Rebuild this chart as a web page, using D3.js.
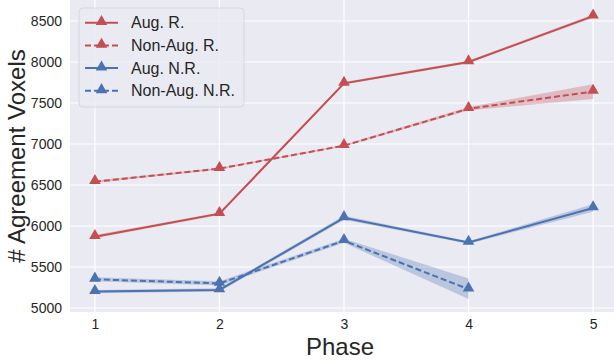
<!DOCTYPE html>
<html><head><meta charset="utf-8">
<script src="https://cdn.jsdelivr.net/npm/d3@7"></script>
<style>body{margin:0;background:#fff}svg{display:block}text{font-family:"Liberation Sans",Arial,sans-serif;fill:#262626}</style>
</head><body><svg id="c" width="614" height="362"></svg>
<script>
const phases = [1, 2, 3, 4, 5];
const yTicks = [5000, 5500, 6000, 6500, 7000, 7500, 8000, 8500];
const augR = [5870, 6150, 7740, 8000, 8560];
const augRLo = [5850, 6135, 7725, 7985, 8540];
const augRHi = [5890, 6165, 7755, 8015, 8580];
const nonAugR = [6540, 6700, 6980, 7430, 7640];
const nonAugRLo = [6525, 6690, 6970, 7410, 7550];
const nonAugRHi = [6555, 6710, 6990, 7450, 7730];
const augNR = [5200, 5220, 6100, 5800, 6220];
const augNRLo = [5180, 5200, 6075, 5785, 6175];
const augNRHi = [5220, 5240, 6125, 5815, 6265];
const nonAugNR = [5350, 5300, 5820, 5230];
const nonAugNRLo = [5325, 5275, 5795, 5110];
const nonAugNRHi = [5375, 5325, 5845, 5360];
const seriesNames = ["Aug. R.", "Non-Aug. R.", "Aug. N.R.", "Non-Aug. N.R."];

const red = "#c44e52", blue = "#4c72b0";
const series = [
  {name: seriesNames[0], v: augR, lo: augRLo, hi: augRHi, color: red, dash: null},
  {name: seriesNames[1], v: nonAugR, lo: nonAugRLo, hi: nonAugRHi, color: red, dash: "6,3"},
  {name: seriesNames[2], v: augNR, lo: augNRLo, hi: augNRHi, color: blue, dash: null},
  {name: seriesNames[3], v: nonAugNR, lo: nonAugNRLo, hi: nonAugNRHi, color: blue, dash: "6,3"}
];

const svg = d3.select("#c");
const L = 70, R = 618, T = 0, B = 312;
const x = d3.scaleLinear().domain([0.8, 5.2]).range([L, R]);
const y = d3.scaleLinear().domain([5000, 8500]).range([308, 21]);

svg.append("rect").attr("x", L).attr("y", T).attr("width", R - L).attr("height", B - T).attr("fill", "#eaeaf2");
const g = svg.append("g");
g.selectAll(".gx").data(phases).enter().append("line")
  .attr("x1", d => x(d)).attr("x2", d => x(d)).attr("y1", T).attr("y2", B)
  .attr("stroke", "#fff").attr("stroke-width", 1.2);
g.selectAll(".gy").data(yTicks).enter().append("line")
  .attr("x1", L).attr("x2", R).attr("y1", d => y(d)).attr("y2", d => y(d))
  .attr("stroke", "#fff").attr("stroke-width", 1.2);

const xAxis = d3.axisBottom(x).tickValues(phases).tickFormat(d3.format("d")).tickSize(0).tickPadding(7);
const xa = svg.append("g").attr("transform", `translate(0,${B})`).call(xAxis);
const yAxis = d3.axisLeft(y).tickValues(yTicks).tickFormat(d3.format("d")).tickSize(0).tickPadding(8);
const ya = svg.append("g").attr("transform", `translate(${L},0)`).call(yAxis);
[xa, ya].forEach(a => {
  a.select(".domain").remove();
  a.selectAll("text").attr("font-size", 14).attr("fill", "#262626").attr("font-family", '"Liberation Sans",Arial,sans-serif');
});

svg.append("text").attr("x", (L + 614) / 2 - 2).attr("y", 355).attr("text-anchor", "middle")
  .attr("font-size", 24).text("Phase");
svg.append("text").attr("transform", `translate(25,${(T + B) / 2}) rotate(-90)`).attr("text-anchor", "middle")
  .attr("font-size", 24).text("# Agreement Voxels");

svg.append("clipPath").attr("id", "pc").append("rect").attr("x", L).attr("y", T).attr("width", R - L).attr("height", B - T);
const plot = svg.append("g").attr("clip-path", "url(#pc)");
const tri = d3.symbol().type(d3.symbolTriangle).size(58);

series.forEach(s => {
  const idx = s.v.map((_, i) => i);
  const area = d3.area().x(i => x(phases[i])).y0(i => y(s.lo[i])).y1(i => y(s.hi[i]));
  plot.append("path").attr("d", area(idx)).attr("fill", s.color).attr("opacity", 0.3);
});
series.forEach(s => {
  const idx = s.v.map((_, i) => i);
  const line = d3.line().x(i => x(phases[i])).y(i => y(s.v[i]));
  plot.append("path").attr("d", line(idx)).attr("fill", "none").attr("stroke", s.color)
    .attr("stroke-width", 2).attr("stroke-dasharray", s.dash);
  plot.selectAll(null).data(idx).enter().append("path")
    .attr("d", tri).attr("transform", i => `translate(${x(phases[i])},${y(s.v[i]) - 1})`)
    .attr("fill", s.color);
});

const lg = svg.append("g");
lg.append("rect").attr("x", 79).attr("y", 8).attr("width", 165).attr("height", 99).attr("rx", 4)
  .attr("fill", "#eaeaf2").attr("fill-opacity", 0.8).attr("stroke", "#d6d6de").attr("stroke-width", 1);
series.forEach((s, i) => {
  const cy = 22.7 + i * 22.7;
  lg.append("line").attr("x1", 85).attr("x2", 118).attr("y1", cy).attr("y2", cy)
    .attr("stroke", s.color).attr("stroke-width", 2).attr("stroke-dasharray", s.dash);
  lg.append("path").attr("d", tri).attr("transform", `translate(101.5,${cy - 1})`).attr("fill", s.color);
  lg.append("text").attr("x", 131).attr("y", cy + 5.5).attr("font-size", 16).text(s.name);
});
</script></body></html>
